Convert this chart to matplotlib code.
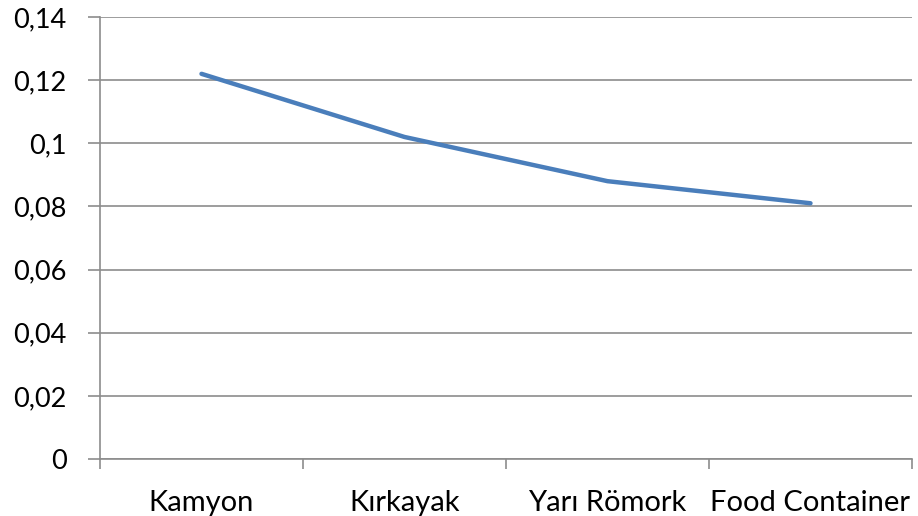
import matplotlib
matplotlib.use("Agg")
import matplotlib.pyplot as plt

categories = ["Kamyon", "Kırkayak", "Yarı Römork", "Food Container"]
values = [0.122, 0.102, 0.088, 0.081]
y_ticks = [0, 0.02, 0.04, 0.06, 0.08, 0.10, 0.12, 0.14]
y_tick_labels = ["0", "0,02", "0,04", "0,06", "0,08", "0,1", "0,12", "0,14"]

plt.rcParams['font.family'] = ['Lato', 'DejaVu Sans']

fig = plt.figure(figsize=(9.18, 5.16), dpi=100)
ax = fig.add_axes([100/918, 1-459/516, 812/918, 442/516])

x = list(range(len(categories)))
ax.plot(x, values, color="#4a7ebb", linewidth=3.2, solid_capstyle="round",
        solid_joinstyle="round", zorder=3)

ax.set_xlim(-0.5, len(categories) - 0.5)
ax.set_ylim(0, 0.14)
ax.set_yticks(y_ticks)
ax.set_yticklabels(y_tick_labels)
ax.yaxis.grid(True, color="#8c8c8c", linewidth=1.2)
ax.set_axisbelow(True)

ax.set_xticks([i - 0.5 for i in range(len(categories) + 1)])
ax.set_xticklabels([])
ax.set_xticks(x, minor=True)
ax.set_xticklabels(categories, minor=True)
ax.tick_params(axis="x", which="minor", length=0, pad=22, labelsize=21)
ax.tick_params(axis="x", which="major", length=7, width=1.2, color="#8c8c8c", direction="out")
ax.tick_params(axis="y", length=9, width=1.2, color="#8c8c8c", direction="out", pad=15, labelsize=19.5)

for s in ["top", "right"]:
    ax.spines[s].set_visible(False)
for s in ["left", "bottom"]:
    ax.spines[s].set_color("#8c8c8c")
    ax.spines[s].set_linewidth(1.2)

fig.savefig("out.png", dpi=100)
